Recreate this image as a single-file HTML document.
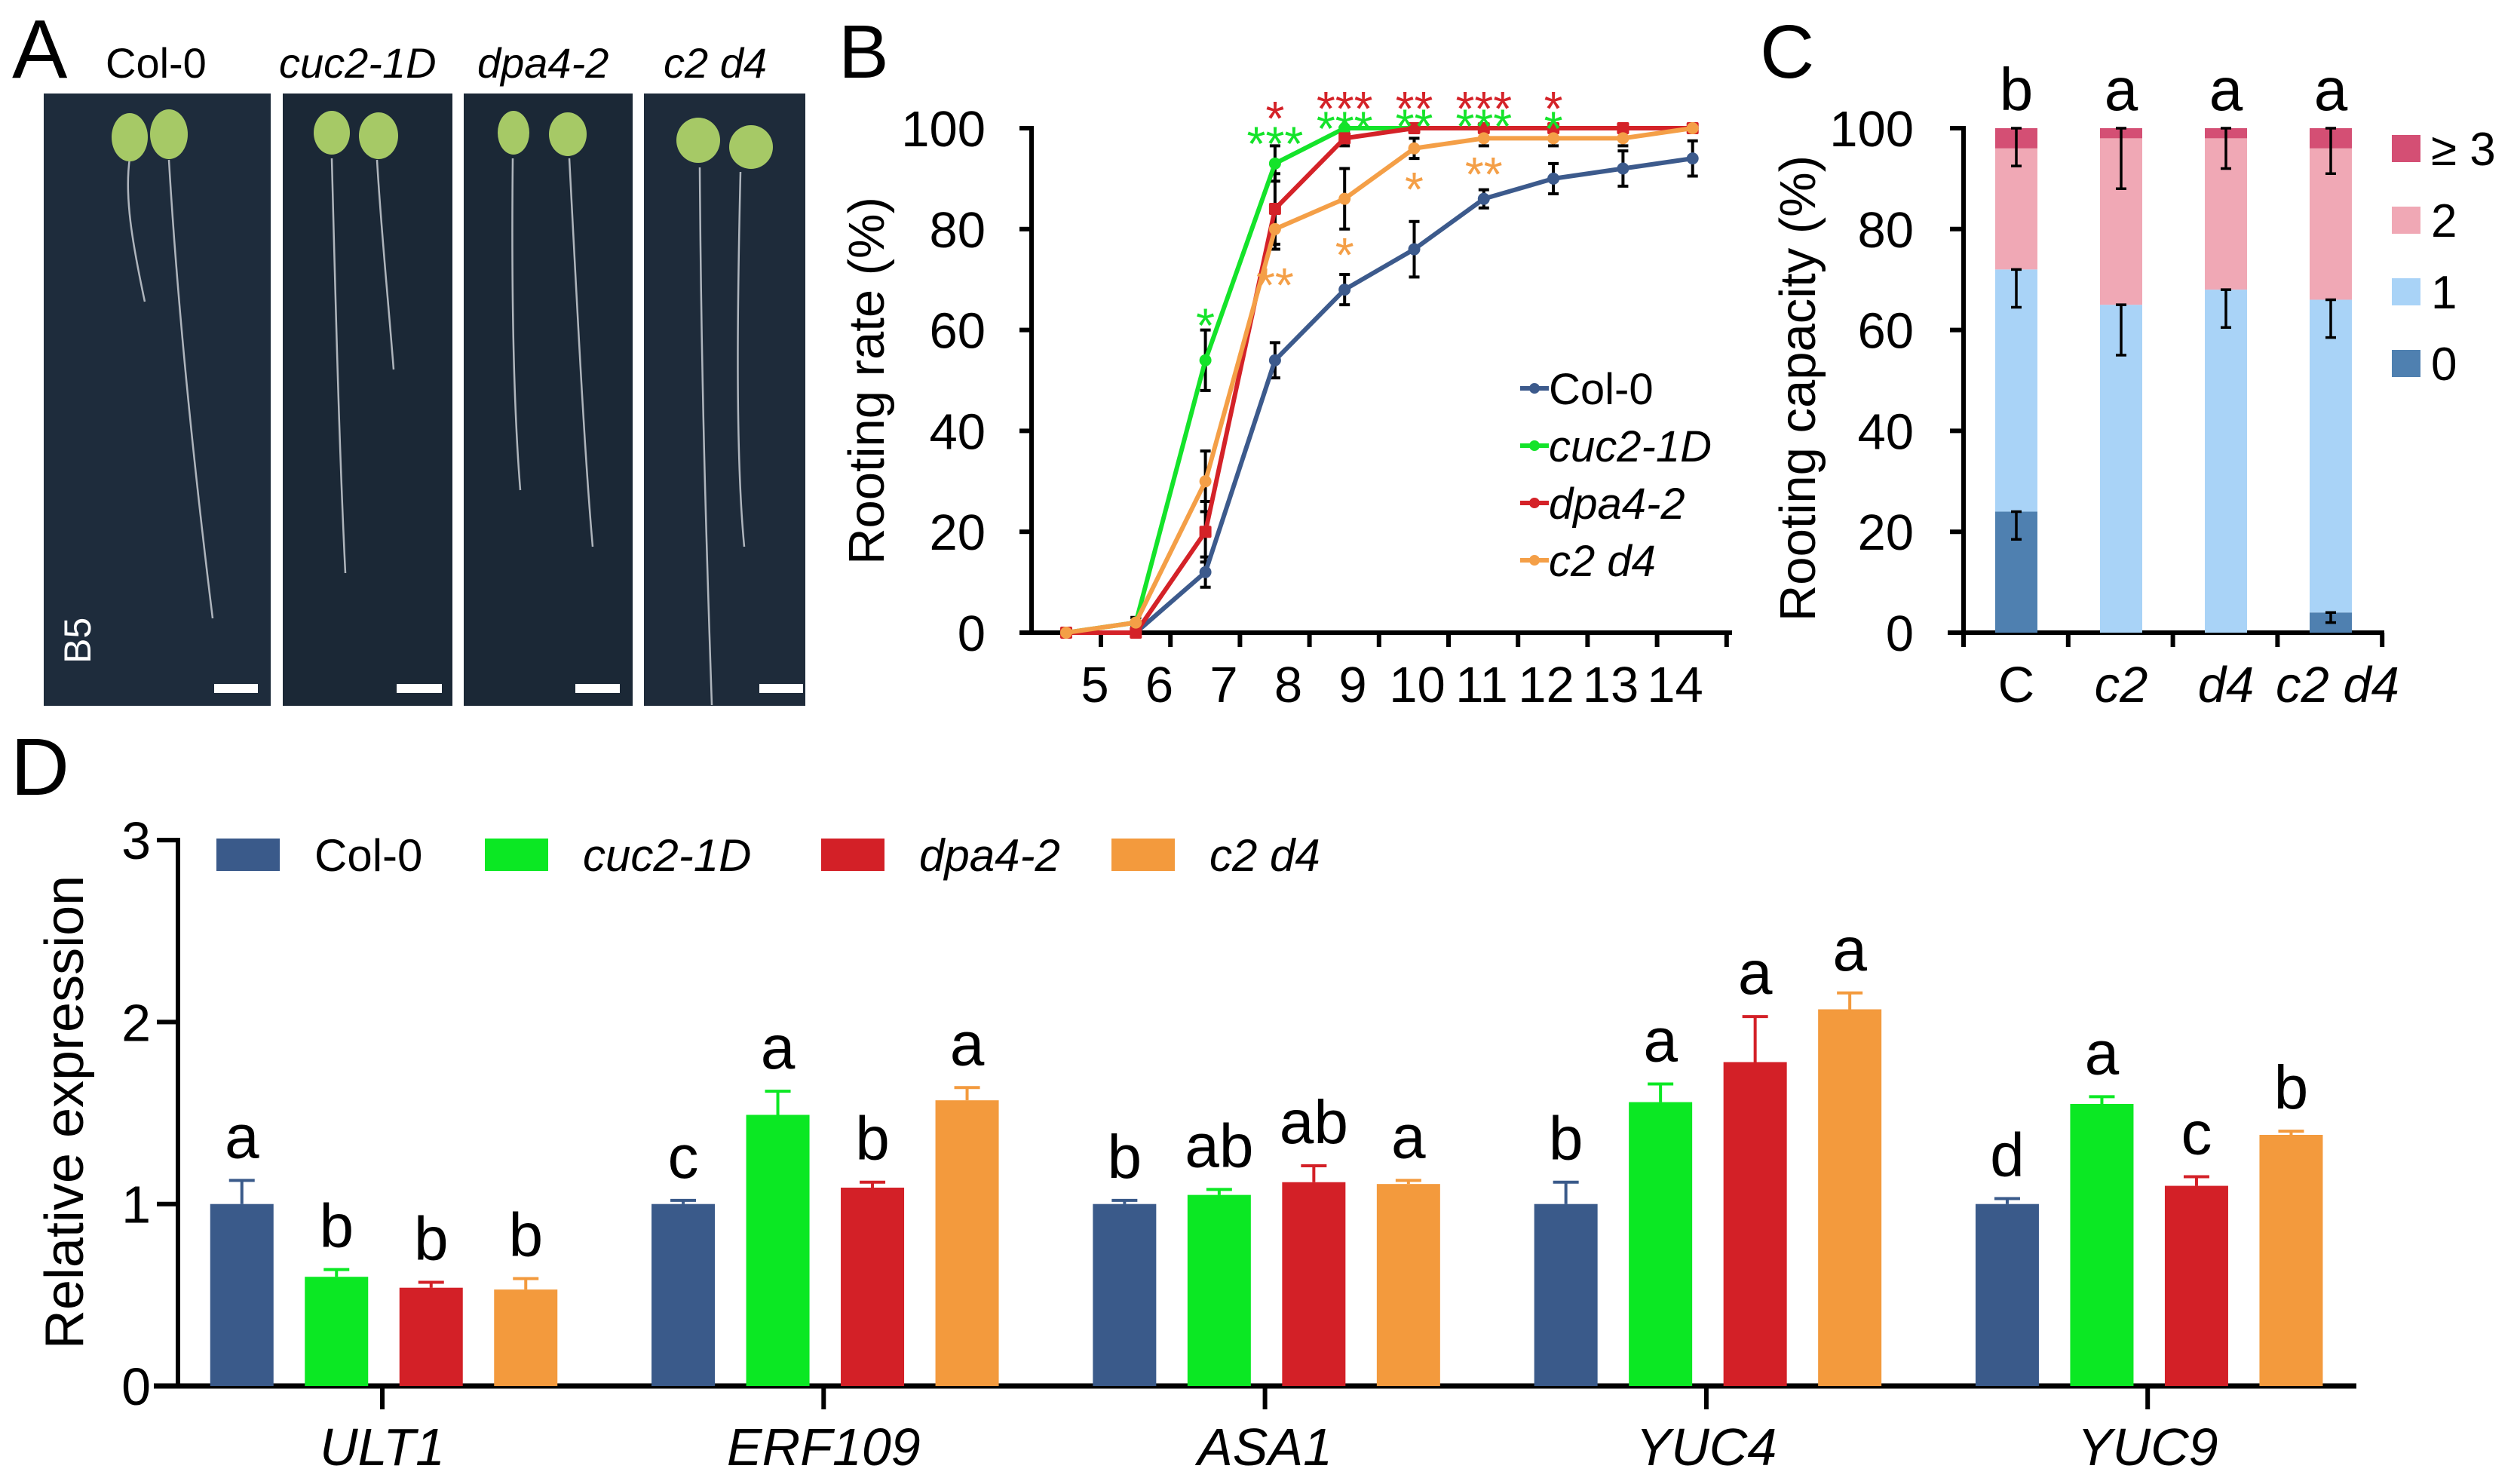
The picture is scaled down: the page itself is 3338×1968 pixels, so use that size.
<!DOCTYPE html>
<html><head><meta charset="utf-8"><style>
html,body{margin:0;padding:0;background:#fff;}
svg{display:block;font-family:"Liberation Sans",Arial,sans-serif;}
</style></head><body>
<svg id="fig" width="3338" height="1968" viewBox="0 0 3338 1968" xmlns="http://www.w3.org/2000/svg">
<rect width="3338" height="1968" fill="#fff"/>
<!-- Panel A -->
<g>
<text x="16" y="103" font-size="110">A</text>
<text x="140" y="103" font-size="56">Col-0</text>
<text x="370" y="103" font-size="56" font-style="italic">cuc2-1D</text>
<text x="633" y="103" font-size="56" font-style="italic">dpa4-2</text>
<text x="880" y="103" font-size="56" font-style="italic">c2 d4</text>
<rect x="58" y="124" width="301" height="812" fill="#1e2c3c"/>
<rect x="375" y="124" width="225" height="812" fill="#1b2836"/>
<rect x="615" y="124" width="224" height="812" fill="#1b2836"/>
<rect x="854" y="124" width="214" height="812" fill="#1e2b3a"/>
<g stroke="#c9ced4" stroke-width="2.5" fill="none" opacity="0.85">
<path d="M172 210 C165 260 175 320 192 400"/><path d="M224 212 C235 400 255 600 282 820"/>
<path d="M440 210 C445 400 450 600 458 760"/><path d="M500 212 C505 300 515 400 522 490"/>
<path d="M680 210 C678 400 682 550 690 650"/><path d="M755 210 C765 400 775 600 786 725"/>
<path d="M928 222 C930 500 936 700 944 935"/><path d="M982 228 C978 400 975 600 987 725"/>
</g>
<g fill="#a6c966">
<ellipse cx="172" cy="182" rx="24" ry="32"/><ellipse cx="224" cy="178" rx="25" ry="33"/>
<ellipse cx="440" cy="176" rx="24" ry="29"/><ellipse cx="502" cy="180" rx="26" ry="31"/>
<ellipse cx="681" cy="176" rx="21" ry="29"/><ellipse cx="753" cy="178" rx="25" ry="29"/>
<ellipse cx="926" cy="186" rx="29" ry="30"/><ellipse cx="996" cy="195" rx="29" ry="29"/>
</g>
<g fill="#fff">
<rect x="284" y="907" width="58" height="12"/><rect x="526" y="907" width="60" height="12"/>
<rect x="763" y="907" width="59" height="12"/><rect x="1007" y="907" width="58" height="12"/>
</g>
<text transform="translate(120,880) rotate(-90)" font-size="50" fill="#fff">B5</text>
</g>
<g id="pb">
<text x="1112" y="103" font-size="100">B</text>
<text transform="translate(1172,505) rotate(-90)" text-anchor="middle" font-size="67">Rooting rate (%)</text>
</g>
<g id="pc">
<text x="2334" y="103" font-size="100">C</text>
<text transform="translate(2407,515) rotate(-90)" text-anchor="middle" font-size="67">Rooting capacity (%)</text>
</g>
<g id="pd">
<text x="14" y="1054" font-size="108">D</text>
<text transform="translate(110,1475) rotate(-90)" text-anchor="middle" font-size="72">Relative expression</text>
</g>
</svg>
<script>
// ---- Panel B data ----
const bDays = ['5','6','7','8','9','10','11','12','13','14'];
const bCol = [0,0,12,54,68,76,86,90,92,94];
const bCuc = [0,2,54,93,100,100,100,100,100,100];
const bDpa = [0,0,20,84,98,100,100,100,100,100];
const bC2d4 = [0,2,30,80,86,96,98,98,98,100];
const bColErr = [0,0,3,3.5,3,5.5,1.8,3,3.5,3.5];
const bCucErr = [0,1,6,3.5,0,0,0,0,0,0];
const bDpaErr = [0,0,6,7,1.5,0,0,0,0,0];
const bC2d4Err = [0,1,6,4,6,2,1.5,1.5,1.5,0];
const bTicks = [0,20,40,60,80,100];
const bStarIdx = [2,3,3,3,4,4,4,5,5,5,6,6,6,7,7];
const bStarTxt = ['*','*','***','**','***','***','*','**','**','*','***','***','**','*','*'];
const bStarSer = ['g','r','g','o','r','g','o','r','g','o','r','g','o','r','g'];
const bStarVal = [63,104,99,71,106,102,77,106,102.5,90,106,102.5,93,106,102];
// ---- Panel C data ----
const cGroups = ['C','c2','d4','c2 d4'];
const cItalic = [false,true,true,true];
const c0 = [24,0,0,4];
const c1 = [48,65,68,62];
const c2 = [24,33,30,30];
const c3 = [4,2,2,4];
const cErr0 = [5.5,0,0,2];
const cErr1 = [7.5,10,7.5,7.5];
const cErrTop = [7.5,12,8,9];
const cLetters = ['b','a','a','a'];
const cTicks = [0,20,40,60,80,100];
const cLegend = ['≥ 3','2','1','0'];
// ---- Panel D data ----
const dGenes = ['ULT1','ERF109','ASA1','YUC4','YUC9'];
const dSeries = ['Col-0','cuc2-1D','dpa4-2','c2 d4'];
const dCol = [1.0,1.0,1.0,1.0,1.0];
const dCuc = [0.60,1.49,1.05,1.56,1.55];
const dDpa = [0.54,1.09,1.12,1.78,1.10];
const dC2d4 = [0.53,1.57,1.11,2.07,1.38];
const dColErr = [0.13,0.02,0.02,0.12,0.03];
const dCucErr = [0.04,0.13,0.03,0.10,0.04];
const dDpaErr = [0.03,0.03,0.09,0.25,0.05];
const dC2d4Err = [0.06,0.07,0.02,0.09,0.02];
const dLetCol = ['a','c','b','b','d'];
const dLetCuc = ['b','a','ab','a','a'];
const dLetDpa = ['b','b','ab','a','c'];
const dLetC2d4 = ['b','a','a','a','b'];
const dTicks = [0,1,2,3];

const NS='http://www.w3.org/2000/svg';
function mk(tag, attrs, parent, txt){
  const e=document.createElementNS(NS,tag);
  for(const k in attrs) e.setAttribute(k,attrs[k]);
  if(txt!==undefined) e.textContent=txt;
  parent.appendChild(e); return e;
}
const colors={b:'#3c5a8c',g:'#14e32a',r:'#d42228',o:'#f49f47'};

// ===== Panel B =====
const pb=document.getElementById('pb');
const xB=i=>1414+i*92.3;
const yB=v=>839-v*6.69;
let el;
el=mk('line',{x1:1368,y1:yB(100)-3,x2:1368,y2:yB(0)+3,stroke:'#000','stroke-width':6},pb);


el=mk('line',{x1:1352,y1:yB(0),x2:2297,y2:yB(0),stroke:'#000','stroke-width':6},pb);


bTicks.forEach(t=>{
  el=mk('line',{x1:1352,y1:yB(t),x2:1368,y2:yB(t),stroke:'#000','stroke-width':6},pb);
  
  
  el=mk('text',{x:1307,y:yB(t)+24,'text-anchor':'end','font-size':67},pb,String(t));
  
  
});
bDays.forEach((d,i)=>{
  el=mk('line',{x1:1460+i*92.2,y1:yB(0),x2:1460+i*92.2,y2:858,stroke:'#000','stroke-width':6},pb);
  
  
  el=mk('text',{x:1452+i*85.5,y:931,'text-anchor':'middle','font-size':67},pb,d);
  
  
});
const bSeries=[[bCol,bColErr,'b','col0'],[bCuc,bCucErr,'g','cuc2-1d'],[bDpa,bDpaErr,'r','dpa4-2'],[bC2d4,bC2d4Err,'o','c2d4']];
// error bars first
bSeries.forEach(([vals,errs,c,n])=>{
  vals.forEach((v,i)=>{
    if(errs[i]<=0) return;
    const x=xB(i), y1=yB(Math.min(v+errs[i],100.5)), y2=yB(v-errs[i]);
    el=mk('path',{d:`M${x} ${y1}V${y2}M${x-7} ${y1}H${x+7}M${x-7} ${y2}H${x+7}`,stroke:'#000','stroke-width':4,fill:'none'},pb);
    
    
  });
});
bSeries.forEach(([vals,errs,c,n])=>{
  el=mk('polyline',{points:vals.map((v,i)=>xB(i)+','+yB(v)).join(' '),fill:'none',stroke:colors[c],'stroke-width':6,'stroke-linejoin':'round'},pb);
  
  
  vals.forEach((v,i)=>{
    el=mk('rect',{x:xB(i)-8,y:yB(v)-8,width:16,height:16,rx:c==='r'?2:8,fill:colors[c]},pb);
    
    
  });
});
bStarIdx.forEach((idx,k)=>{
  el=mk('text',{x:xB(idx),y:yB(bStarVal[k])+36,'text-anchor':'middle','font-size':64,fill:colors[bStarSer[k]]},pb,bStarTxt[k]);
  
  
});
const bLegNames=['Col-0','cuc2-1D','dpa4-2','c2 d4'];
const bLegC=['b','g','r','o'];
bLegNames.forEach((n,i)=>{
  const y=515+i*76;
  el=mk('line',{x1:2016,y1:y,x2:2054,y2:y,stroke:colors[bLegC[i]],'stroke-width':6},pb);
  
  
  mk('circle',{cx:2035,cy:y,r:7,fill:colors[bLegC[i]]},pb);
  el=mk('text',{x:2054,y:y+21,'font-size':58,'font-style':i?'italic':'normal'},pb,n);
  
  
});

// ===== Panel C =====
const pc=document.getElementById('pc');
const yC=v=>839-v*6.69;
const xC=i=>2646+i*139;
const cCol=['#4f80b0','#a9d3f7','#f0a8b5','#d44f74'];
el=mk('line',{x1:2604,y1:yC(100)-3,x2:2604,y2:yC(0)+3,stroke:'#000','stroke-width':6},pc);


el=mk('line',{x1:2583,y1:yC(0),x2:3162,y2:yC(0),stroke:'#000','stroke-width':6},pc);


cTicks.forEach(t=>{
  el=mk('line',{x1:2586,y1:yC(t),x2:2604,y2:yC(t),stroke:'#000','stroke-width':6},pc);
  
  
  el=mk('text',{x:2538,y:yC(t)+24,'text-anchor':'end','font-size':67},pc,String(t));
  
  
});
for(let i=0;i<=4;i++){
  el=mk('line',{x1:2604+i*138.8,y1:yC(0),x2:2604+i*138.8,y2:858,stroke:'#000','stroke-width':6},pc);
  
  
}
cGroups.forEach((g,i)=>{
  const segs=[c0[i],c1[i],c2[i],c3[i]];
  let base=0;
  segs.forEach((s,k)=>{
    if(s>0){
      el=mk('rect',{x:xC(i),y:yC(base+s),width:56,height:yC(base)-yC(base+s),fill:cCol[k]},pc);
      
      
    }
    base+=s;
  });
  const cx=xC(i)+28;
  const errs=[[c0[i],cErr0[i]],[c0[i]+c1[i],cErr1[i]],[100,cErrTop[i]]];
  errs.forEach(([top,e])=>{
    if(e<=0) return;
    const y1=yC(top), y2=yC(top-e);
    el=mk('path',{d:`M${cx} ${y1}V${y2}M${cx-7} ${y1}H${cx+7}M${cx-7} ${y2}H${cx+7}`,stroke:'#000','stroke-width':3.5,fill:'none'},pc);
    
    
  });
  el=mk('text',{x:cx,y:146,'text-anchor':'middle','font-size':80},pc,cLetters[i]);
  
  
  el=mk('text',{x:i===3?3100:cx,y:931,'text-anchor':'middle','font-size':67,'font-style':cItalic[i]?'italic':'normal'},pc,g);
  
  
});
cLegend.forEach((n,i)=>{
  const y=197+i*95;
  el=mk('rect',{x:3172,y:y-18,width:38,height:36,fill:cCol[3-i]},pc);
  
  
  el=mk('text',{x:3224,y:y+22,'font-size':62},pc,n);
  
  
});

// ===== Panel D =====
const pd=document.getElementById('pd');
const yD=v=>1838-v*241.3;
const gX=g=>507+g*585.3;
el=mk('line',{x1:236,y1:yD(3)-3,x2:236,y2:yD(0)+3,stroke:'#000','stroke-width':6},pd);


el=mk('line',{x1:204,y1:yD(0),x2:3125,y2:yD(0),stroke:'#000','stroke-width':7},pd);


dTicks.forEach(t=>{
  el=mk('line',{x1:208,y1:yD(t),x2:236,y2:yD(t),stroke:'#000','stroke-width':6},pd);
  
  
  el=mk('text',{x:200,y:yD(t)+25,'text-anchor':'end','font-size':70},pd,String(t));
  
  
});
const dSer=[[dCol,dColErr,dLetCol,'#3a5a8a'],[dCuc,dCucErr,dLetCuc,'#0be823'],[dDpa,dDpaErr,dLetDpa,'#d32027'],[dC2d4,dC2d4Err,dLetC2d4,'#f39a3d']];
dGenes.forEach((g,gi)=>{
  el=mk('line',{x1:gX(gi),y1:yD(0),x2:gX(gi),y2:1869,stroke:'#000','stroke-width':6},pd);
  
  
  el=mk('text',{x:gX(gi),y:1943,'text-anchor':'middle','font-size':70,'font-style':'italic'},pd,g);
  
  
  dSer.forEach(([vals,errs,lets,col],j)=>{
    const cx=gX(gi)+(j-1.5)*125.5+2;
    const top=yD(vals[gi]+errs[gi]);
    el=mk('path',{d:`M${cx} ${yD(vals[gi])}V${top}M${cx-17} ${top}H${cx+17}`,stroke:col,'stroke-width':4,fill:'none'},pd);
    
    
    el=mk('rect',{x:cx-42,y:yD(vals[gi]),width:84,height:yD(0)-yD(vals[gi]),fill:col},pd);
    
    
    el=mk('text',{x:cx,y:top-30,'text-anchor':'middle','font-size':82},pd,lets[gi]);
    
    
  });
});
const dLegSw=[287,643,1089,1474];
dSeries.forEach((n,i)=>{
  el=mk('rect',{x:dLegSw[i],y:1112,width:84,height:43,fill:dSer[i][3]},pd);
  
  
  el=mk('text',{x:dLegSw[i]+130,y:1155,'font-size':60,'font-style':i?'italic':'normal'},pd,n);
  
  
});
</script>
</body></html>
